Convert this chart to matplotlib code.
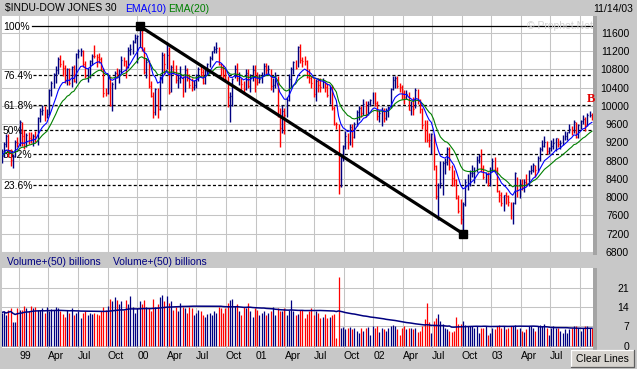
import matplotlib
matplotlib.use("Agg")
import matplotlib.pyplot as plt
import matplotlib.dates as mdates
import matplotlib.transforms as mtrans
from matplotlib.patches import Rectangle
from matplotlib.lines import Line2D
import numpy as np
import pandas as pd

plt.rcParams['font.family'] = ['Liberation Sans', 'DejaVu Sans']
plt.rcParams['lines.scale_dashes'] = False

# ---------------- data (weekly, week ending Friday) ----------------
week_ending = pd.date_range("1998-11-13", periods=262, freq="7D")

close = [
    8919, 9159, 9333, 9016, 8821, 8903, 9217, 9181,
    # 1999
    9643, 9340, 9120, 9358, 9304, 9274, 9340, 9306, 9736, 9876, 9903, 9822,
    9832, 10339, 10493, 10689, 10789, 11031, 10913, 10830, 10560, 10799, 10490, 10855,
    10552, 11139, 11193, 11209, 10911, 10655, 10714, 10974, 11100, 11090, 11078, 11028,
    10803, 10279, 10273, 10649, 10019, 10470, 10729, 10704, 10770, 11003, 10988, 10877,
    11224, 11257, 11405, 11497,
    # 2000
    11522, 11723, 11251, 10739, 10963, 10425, 10219, 9862, 10367, 9929, 10630, 11112,
    10922, 11111, 10305, 10844, 10734, 10577, 10609, 10627, 10300, 10794, 10614, 10449,
    10404, 10448, 10635, 10813, 10733, 10511, 10767, 10908, 11046, 11193, 11238, 11260,
    10927, 10847, 10651, 10596, 10192, 10226, 10590, 10817, 10602, 10629, 10470, 10373,
    10712, 10434, 10635, 10787,
    # 2001
    10662, 10525, 10587, 10659, 10864, 10781, 10799, 10441, 10466, 10644, 9823, 9504,
    9879, 9791, 10126, 10579, 10810, 10951, 10821, 11301, 11005, 10990, 10977, 10623,
    10604, 10502, 10252, 10539, 10457, 10416, 10512, 10416, 10240, 10423, 9949, 9606,
    9605, 8236, 8848, 9120, 9344, 9205, 9545, 9323, 9608, 9867, 9959, 9851,
    10049, 9811, 10035, 10136,
    # 2002
    10259, 10067, 9772, 9841, 9907, 9744, 9903, 9968, 10368, 10572, 10608, 10427,
    10404, 10271, 10191, 10257, 9910, 10006, 9939, 10353, 10105, 9925, 9589, 9474,
    9253, 9243, 9380, 8684, 8019, 8264, 8313, 8745, 8778, 9053, 8664, 8427,
    8380, 7986, 7701, 7528, 7850, 8322, 8444, 8517, 8537, 8579, 8805, 8896,
    8645, 8433, 8511, 8303,
    # 2003
    8601, 8785, 8586, 8131, 8054, 7864, 8043, 8018, 7891, 7740, 7859, 8522,
    8145, 8277, 8221, 8337, 8306, 8582, 8604, 8713, 8601, 8850, 9062, 9117,
    9200, 9012, 9070, 9119, 9188, 9284, 9153, 9191, 9321, 9348, 9416, 9503,
    9471, 9645, 9313, 9573, 9674, 9722, 9582, 9801, 9810, 9768,
]

high = [
    9050, 9200, 9380, 9380, 9060, 8940, 9250, 9320,
    # 1999
    9680, 9650, 9480, 9400, 9420, 9420, 9380, 9450, 9760, 9960, 10010, 9990,
    9940, 10360, 10550, 10730, 10880, 11080, 11120, 11000, 10900, 10820, 10840, 10880,
    10900, 11160, 11240, 11270, 11230, 10990, 10820, 11000, 11140, 11330, 11140, 11150,
    11080, 10830, 10400, 10680, 10660, 10520, 10770, 10830, 10800, 11090, 11080, 11000,
    11290, 11350, 11450, 11570,
    # 2000
    11560, 11750, 11700, 11300, 11050, 11000, 10540, 10300, 10400, 10400, 10660, 11180,
    11150, 11400, 11300, 10900, 11010, 10900, 10700, 10880, 10650, 10900, 10820, 10700,
    10620, 10560, 10700, 10850, 10900, 10800, 10800, 10950, 11100, 11200, 11320, 11400,
    11300, 10950, 10900, 10800, 10650, 10300, 10620, 10900, 10950, 10750, 10600, 10550,
    10800, 10800, 10700, 10900,
    # 2001
    10900, 10750, 10700, 10750, 10950, 10950, 10900, 10800, 10600, 10750, 10650, 9950,
    10020, 9950, 10200, 10700, 10850, 10980, 11000, 11320, 11350, 11070, 11100, 11000,
    10800, 10650, 10600, 10580, 10600, 10600, 10620, 10550, 10500, 10450, 10450, 10000,
    9650, 9600, 8925, 9150, 9450, 9400, 9600, 9600, 9650, 9900, 9990, 10000,
    10150, 10100, 10100, 10150,
    # 2002
    10300, 10300, 10100, 9900, 9980, 9950, 9950, 10000, 10400, 10650, 10650, 10650,
    10500, 10450, 10350, 10350, 10300, 10100, 10200, 10400, 10380, 10150, 9950, 9700,
    9700, 9400, 9400, 9380, 8700, 8300, 8800, 8800, 8850, 9100, 9100, 8700,
    8600, 8400, 8050, 7950, 7900, 8400, 8500, 8600, 8700, 8650, 8900, 8950,
    9050, 8700, 8550, 8550,
    # 2003
    8650, 8850, 8870, 8650, 8150, 8100, 8050, 8100, 8050, 7900, 7900, 8550,
    8450, 8400, 8400, 8400, 8500, 8600, 8700, 8750, 8700, 8900, 9100, 9250,
    9330, 9220, 9100, 9250, 9300, 9300, 9300, 9250, 9350, 9450, 9430, 9600,
    9550, 9700, 9650, 9600, 9700, 9800, 9750, 9850, 9880, 9850,
]

low = [
    8750, 8870, 9100, 8880, 8690, 8630, 8880, 9100,
    # 1999
    9120, 9130, 9050, 9100, 9170, 9180, 9110, 9200, 9150, 9650, 9800, 9660,
    9740, 9810, 10220, 10400, 10500, 10690, 10850, 10660, 10500, 10450, 10460, 10410,
    10520, 10500, 11040, 11100, 10860, 10620, 10520, 10620, 10900, 11050, 10860, 10950,
    10770, 10200, 10210, 10250, 10000, 9890, 10360, 10600, 10500, 10720, 10880, 10600,
    10830, 11110, 11140, 11370,
    # 2000
    10950, 11300, 11200, 10700, 10600, 10400, 10200, 9730, 9800, 9730, 9900, 10500,
    10700, 10800, 10250, 10300, 10700, 10500, 10400, 10500, 10200, 10300, 10550, 10400,
    10320, 10350, 10400, 10550, 10650, 10480, 10480, 10700, 10850, 11000, 11150, 11150,
    10900, 10650, 10600, 10550, 9975, 9650, 10000, 10600, 10550, 10450, 10300, 10250,
    10350, 10400, 10300, 10550,
    # 2001
    10300, 10450, 10500, 10500, 10650, 10700, 10700, 10350, 10300, 10400, 9750, 9106,
    9400, 9390, 9750, 10100, 10400, 10700, 10800, 10850, 10950, 10850, 10900, 10600,
    10500, 10400, 10200, 10100, 10300, 10300, 10400, 10300, 10200, 10050, 9900, 9580,
    9500, 8060, 8230, 8800, 9050, 9050, 9150, 9100, 9300, 9550, 9700, 9750,
    9800, 9750, 9800, 10000,
    # 2002
    10050, 10000, 9700, 9650, 9550, 9650, 9700, 9750, 9950, 10350, 10400, 10400,
    10300, 10150, 10050, 10150, 9900, 9800, 9800, 9950, 10050, 9850, 9500, 9200,
    9200, 9100, 8950, 8600, 7950, 7490, 8200, 8050, 8500, 8700, 8600, 8250,
    8250, 7950, 7650, 7400, 7197, 7800, 8150, 8250, 8450, 8300, 8550, 8750,
    8550, 8400, 8300, 8250,
    # 2003
    8250, 8550, 8550, 8100, 7900, 7800, 7700, 7850, 7800, 7520, 7400, 7850,
    8000, 7990, 8150, 8100, 8250, 8250, 8500, 8550, 8450, 8550, 8800, 9000,
    9100, 8950, 8950, 9000, 9050, 9000, 9100, 9050, 9150, 9250, 9250, 9400,
    9350, 9400, 9300, 9300, 9500, 9600, 9450, 9550, 9750, 9700,
]

volume = [
    12.0, 12.5, 11.0, 13.0, 13.5, 8.5, 8.7, 13.5,
    # 1999
    13.0, 12.8, 14.5, 13.5, 12.5, 14.5, 13.8, 14.0, 13.0, 12.8, 13.5, 12.0,
    14.0, 12.5, 13.2, 13.0, 14.0, 13.5, 12.5, 11.5, 10.5, 13.0, 12.0, 13.5,
    11.0, 12.0, 12.5, 10.0, 12.0, 12.5, 11.0, 12.0, 11.5, 12.0, 11.5, 11.0,
    12.5, 14.0, 13.0, 14.5, 17.0, 16.0, 17.5, 16.5, 15.0, 16.0, 13.0, 16.5,
    15.0, 18.0, 14.0, 12.0,
    # 2000
    13.5, 16.0, 15.0, 16.5, 14.0, 13.5, 12.5, 17.0, 14.0, 15.0, 17.5, 18.5,
    16.0, 18.0, 15.5, 16.0, 13.0, 14.0, 12.5, 15.5, 14.0, 13.5, 12.0, 14.0,
    13.5, 11.0, 12.0, 13.0, 12.5, 11.0, 10.5, 11.5, 12.0, 11.0, 12.5, 12.0,
    14.0, 13.5, 12.0, 13.5, 15.5, 16.5, 17.0, 14.5, 15.0, 12.5, 11.0, 14.0,
    13.5, 15.5, 12.5, 10.5,
    # 2001
    13.5, 13.0, 11.0, 12.0, 12.5, 11.0, 12.0, 12.5, 14.0, 11.0, 13.5, 12.5,
    12.5, 13.5, 11.0, 13.0, 16.5, 12.5, 11.0, 11.5, 13.0, 13.0, 10.0, 11.5,
    12.5, 13.5, 11.0, 12.5, 12.0, 10.0, 10.5, 11.5, 10.0, 10.5, 11.0, 11.5,
    2.8, 25.0, 6.5, 6.8, 6.0, 6.5, 6.8, 6.0, 6.5, 5.5, 4.5, 6.5,
    5.5, 6.5, 6.8, 4.0,
    # 2002
    7.0, 6.5, 7.0, 5.0, 6.5, 6.0, 5.5, 6.5, 7.0, 7.5, 7.0, 6.0,
    4.0, 6.5, 7.0, 6.0, 6.5, 6.5, 6.0, 6.5, 5.0, 5.5, 7.0, 9.7,
    15.5, 8.5, 4.5, 9.0, 10.1, 11.6, 9.0, 8.0, 6.5, 6.0, 5.5, 5.0,
    5.5, 10.3, 8.0, 8.0, 8.9, 7.5, 7.0, 7.0, 7.0, 6.5, 7.0, 4.5,
    6.5, 6.5, 7.0, 4.0,
    # 2003
    4.5, 6.5, 6.0, 7.0, 7.5, 6.5, 7.0, 6.0, 6.5, 7.0, 7.0, 7.5,
    6.0, 6.5, 5.5, 5.0, 6.0, 7.0, 7.0, 6.5, 5.5, 7.0, 7.5, 7.0,
    8.0, 6.5, 4.0, 6.5, 7.0, 6.5, 6.5, 5.5, 4.5, 6.0, 4.5, 6.0,
    6.5, 7.0, 7.0, 6.5, 5.5, 6.5, 7.0, 7.0, 6.5, 6.5,
]

fib_high = 11750
fib_low = 7197
fib_levels = [1.0, 0.764, 0.618, 0.5, 0.382, 0.236]
fib_labels = ["100%", "76.4%", "61.8%", "50%", "38.2%", "23.6%"]

trend_dates = ["2000-01-14", "2002-10-11"]
trend_values = [11750, 7197]

price_ticks = [6800, 7200, 7600, 8000, 8400, 8800, 9200, 9600, 10000,
               10400, 10800, 11200, 11600]
vol_ticks = [0, 7, 14, 21]
quarter_starts = pd.date_range("1999-01-01", "2003-10-01", freq="QS")
# the Oct 2003 label sits under the "Clear Lines" button, so only its gridline shows
quarter_labels = ["99", "Apr", "Jul", "Oct", "00", "Apr", "Jul", "Oct",
                  "01", "Apr", "Jul", "Oct", "02", "Apr", "Jul", "Oct",
                  "03", "Apr", "Jul", ""]

# ---------------- styling ----------------
W, H, DPI = 637, 369, 100
BG = "#C8C8C8"
GRID = "#C4C4C4"
NAVY = "#000080"
RED = "#FF0000"
FS = 7.5

close_a = np.array(close, dtype=float)
prev_close = np.r_[close_a[0], close_a[:-1]]
bar_colors = np.where(close_a < prev_close, RED, NAVY)

ema10 = pd.Series(close_a).ewm(span=10, adjust=False).mean()
ema20 = pd.Series(close_a).ewm(span=20, adjust=False).mean()
vol_ma = pd.Series(volume, dtype=float).rolling(50, min_periods=1).mean()

# each weekly bar is drawn at the start of its week
bar_x = mdates.date2num(week_ending - pd.Timedelta(days=6))
t0 = mdates.date2num(week_ending[0])
xlim = (t0 - 4.6, t0 + 1824.3)
q_x = mdates.date2num(quarter_starts)

fig = plt.figure(figsize=(W / DPI, H / DPI), dpi=DPI, facecolor=BG)


def px_axes(l, t, r, b):
    return fig.add_axes([l / W, 1 - b / H, (r - l) / W, (b - t) / H])


def fig_rect(l, t, r, b, **kw):
    fig.patches.append(Rectangle((l / W, 1 - b / H), (r - l) / W, (b - t) / H,
                                 transform=fig.transFigure, figure=fig, **kw))


# shadows to the right of the panels
fig_rect(593, 16, 597, 255, facecolor="#A4A4A4", edgecolor="none", zorder=-1)
fig_rect(593, 268, 597, 351, facecolor="#A4A4A4", edgecolor="none", zorder=-1)

ax = px_axes(2, 16, 593, 252)
axv = px_axes(2, 268, 593, 348)

for a in (ax, axv):
    a.set_facecolor("white")
    for s in a.spines.values():
        s.set_visible(False)
    a.set_xlim(*xlim)
    a.set_xticks(q_x)
    a.grid(True, color=GRID, lw=0.75, zorder=0)
    a.set_axisbelow(True)
    a.yaxis.tick_right()
    a.tick_params(axis="y", length=0, pad=26, labelsize=FS, colors="black")

# ---------------- price panel ----------------
ax.set_ylim(6795, 11970)
ax.set_yticks(price_ticks)
ax.set_yticklabels([str(v) for v in price_ticks])
for t in ax.get_yticklabels():
    t.set_ha("right")
ax.tick_params(axis="x", length=0, labelbottom=False)

blend = mtrans.blended_transform_factory(ax.transAxes, ax.transData)
fib_values = [fib_low + f * (fib_high - fib_low) for f in fib_levels]
for f, lab, val in zip(fib_levels, fib_labels, fib_values):
    if lab == "50%":
        start = 0.027
    elif lab == "100%":
        start = 0.0508
    else:
        start = 0.052
    if f == 1.0:
        ax.axhline(val, xmin=start, xmax=1, color="black", lw=0.9, zorder=1)
    else:
        ax.axhline(val, xmin=start, xmax=1, color="black", lw=0.9,
                   ls=(0, (2.2, 1.6)), zorder=1)
    ax.text(0.0017, val, lab, transform=blend, ha="left", va="center_baseline",
            fontsize=FS, color="black", zorder=1)

ax.vlines(bar_x, low, high, colors=bar_colors, lw=1.0, zorder=3)
ax.hlines(close_a, bar_x, bar_x + 3.0, colors=bar_colors, lw=0.9, zorder=3)
ax.plot(bar_x, ema20, color="#008000", lw=0.8, zorder=4)
ax.plot(bar_x, ema10, color="#0000FF", lw=0.8, zorder=4)

trend_x = mdates.date2num(pd.to_datetime(trend_dates) - pd.Timedelta(days=6))
ax.plot(trend_x, trend_values, color="black", lw=2.3, zorder=6,
        solid_capstyle="butt")
ax.plot(trend_x, trend_values, ls="none", marker="s", ms=6, color="black",
        zorder=7)

# ---------------- volume panel ----------------
axv.set_ylim(-0.8, 28.1)
axv.set_yticks(vol_ticks)
axv.set_yticklabels([str(v) for v in vol_ticks])
for t in axv.get_yticklabels():
    t.set_ha("right")
axv.vlines(bar_x, 0, volume, colors=bar_colors, lw=0.9, zorder=3)
axv.plot(bar_x, vol_ma, color=NAVY, lw=1.1, zorder=4)
axv.set_xticklabels(quarter_labels, ha="left", fontsize=FS)
axv.tick_params(axis="x", length=0, pad=2.5, colors="black")

# ---------------- texts ----------------
def ftext(x, y, s, **kw):
    fig.text(x / W, 1 - y / H, s, **kw)


ftext(5, 8.5, "$INDU-DOW JONES 30", ha="left", va="center", fontsize=FS)
ftext(125, 8.5, "EMA(10)", ha="left", va="center", fontsize=FS, color="#0000FF")
ftext(168, 8.5, "EMA(20)", ha="left", va="center", fontsize=FS, color="#008000")
ftext(633, 8.5, "11/14/03", ha="right", va="center", fontsize=FS)
ftext(560, 26, "\u00a9 Prophet.Net", ha="center", va="center", fontsize=FS,
      color="#D0D0D0", zorder=3)
ftext(591, 99, "B", ha="center", va="center", fontsize=9, fontweight="bold",
      family=["Liberation Serif", "DejaVu Serif"], color="#E00000", zorder=5)
ftext(7, 262, "Volume+(50) billions", ha="left", va="center", fontsize=FS,
      color=NAVY)
ftext(113, 262, "Volume+(50) billions", ha="left", va="center", fontsize=FS,
      color=NAVY)

# Clear Lines button
fig_rect(571, 350, 634, 367, facecolor="#D6D3CE", edgecolor="none", zorder=5)
fig.lines.append(Line2D([571 / W, 571 / W, 634 / W], [1 - 367 / H, 1 - 350 / H, 1 - 350 / H],
                        transform=fig.transFigure, color="white", lw=0.9, zorder=6))
fig.lines.append(Line2D([571 / W, 634 / W, 634 / W], [1 - 367 / H, 1 - 367 / H, 1 - 350 / H],
                        transform=fig.transFigure, color="#606060", lw=0.9, zorder=6))
ftext(602.5, 358.5, "Clear Lines", ha="center", va="center", fontsize=FS, zorder=7)

fig.savefig("out.png", dpi=DPI, facecolor=BG)
